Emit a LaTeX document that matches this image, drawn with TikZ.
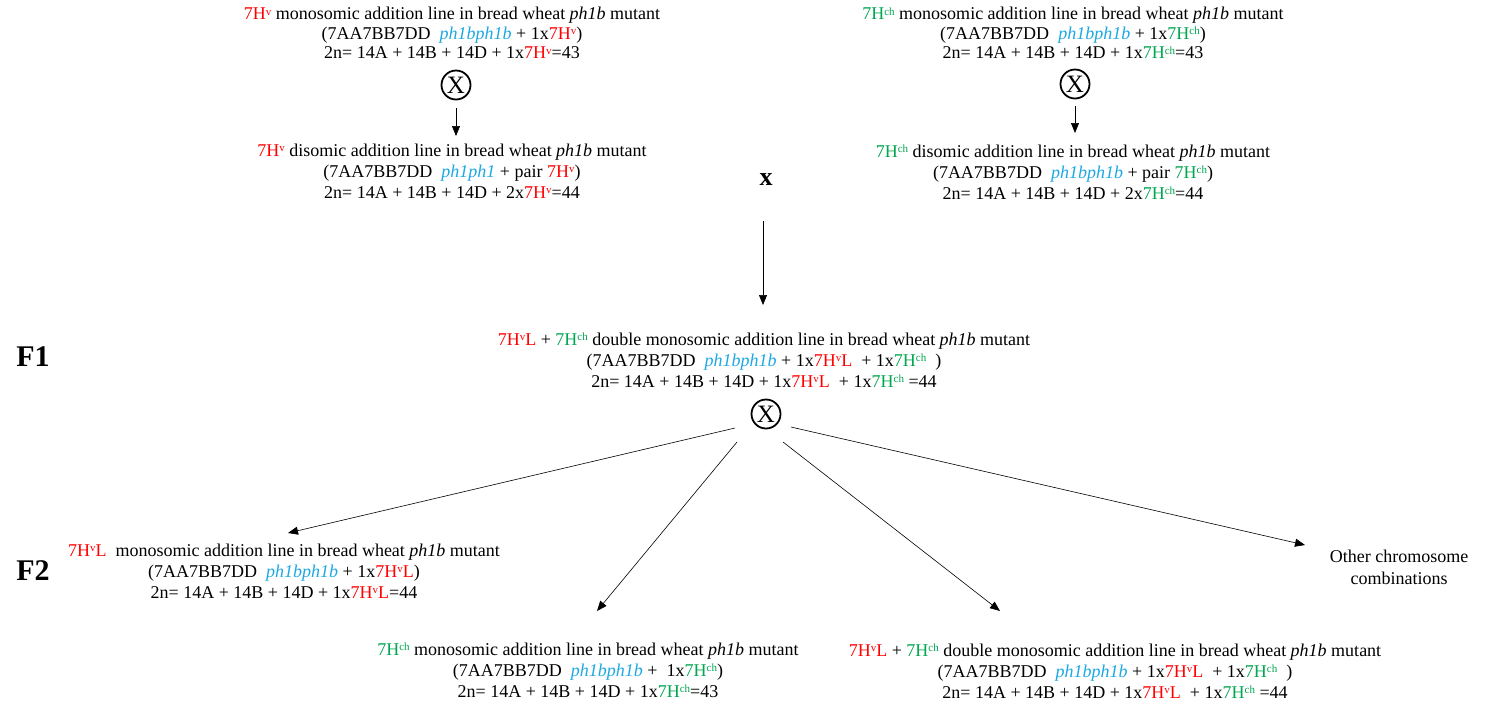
\documentclass[tikz,border=0pt]{standalone}
\usepackage{fontspec}
\setmainfont{Liberation Serif}
\usetikzlibrary{arrows.meta}
\definecolor{myred}{HTML}{FF0000}
\definecolor{mygreen}{HTML}{00A650}
\definecolor{myblue}{HTML}{1CA8E3}
\newcommand\mysup[1]{\raisebox{0.55ex}{\fontsize{11}{11}\selectfont #1}}
\newcommand\myHv{\textcolor{myred}{7H\mysup{v}}}
\newcommand\myHvL{\textcolor{myred}{7H\mysup{v}L}}
\newcommand\myHch{\textcolor{mygreen}{7H\mysup{ch}}}
\newcommand\myph[1]{\textcolor{myblue}{\textit{#1}}}
\tikzset{
  txt/.style={align=center, inner sep=0pt, font=\fontsize{18}{19.5}\selectfont},
  txtb/.style={align=center, inner sep=0pt, font=\fontsize{18}{21}\selectfont},
  gen/.style={inner sep=0pt, font=\fontsize{30}{30}\selectfont\bfseries},
  selfx/.style={circle, draw, line width=1.8pt, minimum size=29pt, inner sep=0pt, font=\fontsize{25}{25}\selectfont},
  arr/.style={-{Triangle[length=10pt,width=8pt]}, line width=0.6pt},
}
\begin{document}
\begin{tikzpicture}[x=1pt,y=-1pt]
\useasboundingbox (0,0) rectangle (1490,705);
% top left
\node[txt] (tl) at (452,33) {\myHv{} monosomic addition line in bread wheat \textit{ph1b} mutant\\
(7AA7BB7DD \ \myph{ph1bph1b} + 1x\myHv)\\
2n= 14A + 14B + 14D + 1x\myHv=43};
\node[selfx] (cx1) at (456,85) {X};
\node[txtb] (bl) at (452,171) {\myHv{} disomic addition line in bread wheat \textit{ph1b} mutant\\
(7AA7BB7DD \ \myph{ph1ph1} + pair \myHv)\\
2n= 14A + 14B + 14D + 2x\myHv=44};
% top right
\node[txt] (tr) at (1073,33) {\myHch{} monosomic addition line in bread wheat \textit{ph1b} mutant\\
(7AA7BB7DD \ \myph{ph1bph1b} + 1x\myHch)\\
2n= 14A + 14B + 14D + 1x\myHch=43};
\node[selfx] (cx2) at (1075,84) {X};
\node[txtb] (br) at (1073,172) {\myHch{} disomic addition line in bread wheat \textit{ph1b} mutant\\
(7AA7BB7DD \ \myph{ph1bph1b} + pair \myHch)\\
2n= 14A + 14B + 14D + 2x\myHch=44};
% cross
\node[inner sep=0pt, font=\fontsize{26}{26}\selectfont\bfseries] (cross) at (766,180) {x};
% F1
\node[gen] (f1) at (33,357) {F1};
\node[txtb] (fone) at (764,360) {\myHvL{} + \myHch{} double monosomic addition line in bread wheat \textit{ph1b} mutant\\
(7AA7BB7DD \ \myph{ph1bph1b} + 1x\myHvL{} \ + 1x\myHch{} \ )\\
2n= 14A + 14B + 14D + 1x\myHvL{} \ + 1x\myHch{} =44};
\node[selfx] (cf1) at (766,414) {X};
% F2
\node[gen] (f2) at (33,571) {F2};
\node[txtb] (m1) at (284,571) {\myHvL{} \ monosomic addition line in bread wheat \textit{ph1b} mutant\\
(7AA7BB7DD \ \myph{ph1bph1b} + 1x\myHvL)\\
2n= 14A + 14B + 14D + 1x\myHvL=44};
\node[txtb] (m2) at (588,670) {\myHch{} monosomic addition line in bread wheat \textit{ph1b} mutant\\
(7AA7BB7DD \ \myph{ph1bph1b} + \ 1x\myHch)\\
2n= 14A + 14B + 14D + 1x\myHch=43};
\node[txtb] (m3) at (1115,671) {\myHvL{} + \myHch{} double monosomic addition line in bread wheat \textit{ph1b} mutant\\
(7AA7BB7DD \ \myph{ph1bph1b} + 1x\myHvL{} \ + 1x\myHch{} \ )\\
2n= 14A + 14B + 14D + 1x\myHvL{} \ + 1x\myHch{} =44};
\node[txt, font=\fontsize{18}{22}\selectfont] (oth) at (1399,567) {Other chromosome\\combinations};
% connector end points
\coordinate (a0s) at (456,108); \coordinate (a0e) at (456,136);
\coordinate (b0s) at (1075,106); \coordinate (b0e) at (1075,133);
\coordinate (c0s) at (763,221); \coordinate (c0e) at (763,305);
\coordinate (d1s) at (735,428); \coordinate (d1e) at (288,533);
\coordinate (d2s) at (737,442); \coordinate (d2e) at (597,611);
\coordinate (d3s) at (783,442); \coordinate (d3e) at (1000,611);
\coordinate (d4s) at (791,427); \coordinate (d4e) at (1305,545);
\draw[arr] (a0s) -- (a0e);
\draw[arr] (b0s) -- (b0e);
\draw[arr] (c0s) -- (c0e);
\draw[arr] (d1s) -- (d1e);
\draw[arr] (d2s) -- (d2e);
\draw[arr] (d3s) -- (d3e);
\draw[arr] (d4s) -- (d4e);
\end{tikzpicture}
\end{document}
